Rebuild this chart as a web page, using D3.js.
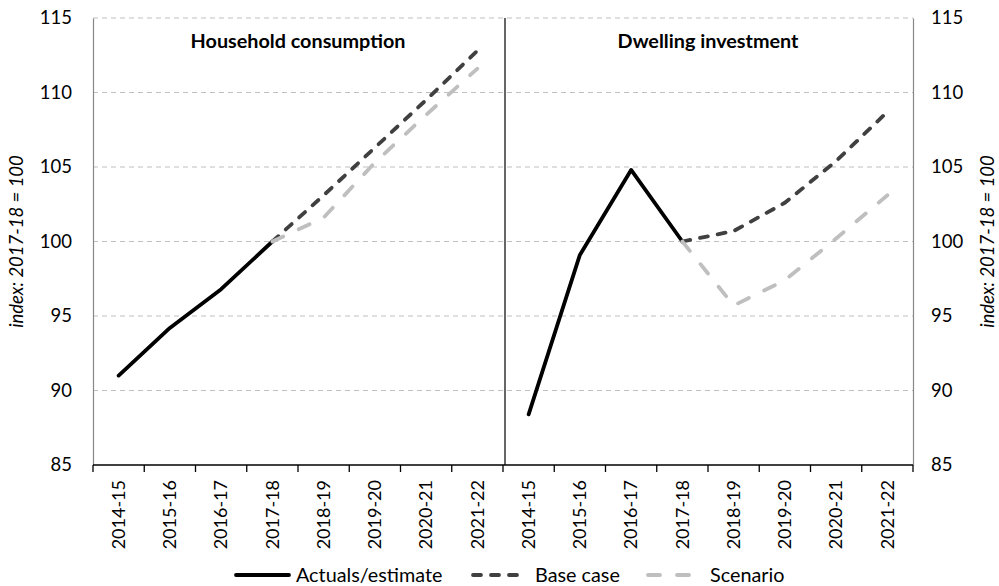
<!DOCTYPE html>
<html>
<head>
<meta charset="utf-8">
<script src="https://cdn.jsdelivr.net/npm/d3@7"></script>
<style>
  html, body { margin: 0; padding: 0; background: #fff; }
  svg { display: block; font-family: Lato, "Open Sans", sans-serif; }
</style>
</head>
<body>
<svg id="chart" width="999" height="586"></svg>
<script>
// ---- data ----
const years = ["2014-15", "2015-16", "2016-17", "2017-18", "2018-19", "2019-20", "2020-21", "2021-22"];
const panelTitles = ["Household consumption", "Dwelling investment"];
const yTicks = [85, 90, 95, 100, 105, 110, 115];
const seriesNames = ["Actuals/estimate", "Base case", "Scenario"];

// Household consumption
const hcActual   = [91.0, 94.2, 96.8, 100.0, null, null, null, null];
const hcBase     = [null, null, null, 100.0, 103.1, 106.3, 109.5, 112.8];
const hcScenario = [null, null, null, 100.0, 101.6, 105.3, 108.5, 111.6];
// Dwelling investment
const diActual   = [88.4, 99.1, 104.8, 100.0, null, null, null, null];
const diBase     = [null, null, null, 100.0, 100.7, 102.6, 105.4, 108.7];
const diScenario = [null, null, null, 100.0, 95.7, 97.4, 100.2, 103.1];

const panels = [
  { title: panelTitles[0], series: [hcActual, hcBase, hcScenario] },
  { title: panelTitles[1], series: [diActual, diBase, diScenario] }
];

// ---- styles ----
const styles = [
  { color: "#000000", width: 3.8, dash: null, cap: "round" },
  { color: "#404040", width: 3.8, dash: "8,10", cap: "round" },
  { color: "#bfbfbf", width: 3.8, dash: "12,17", cap: "round" }
];

const svg = d3.select("#chart");
const L = 93, R = 913, T = 18, B = 465;

const keys = [];
panels.forEach((p, pi) => years.forEach(y => keys.push(pi + "|" + y)));
const x = d3.scaleBand().domain(keys).range([L, R]).paddingInner(0).paddingOuter(0);
const y = d3.scaleLinear().domain([85, 115]).range([B, T]);

// gridlines
svg.append("g").selectAll("line").data(yTicks.filter(t => t > 85)).join("line")
  .attr("x1", L).attr("x2", R)
  .attr("y1", d => y(d)).attr("y2", d => y(d))
  .attr("stroke", "#bfbfbf").attr("stroke-width", 1.2).attr("stroke-dasharray", "5,4");

// left / right axes
const yAxisL = d3.axisLeft(y).tickValues(yTicks).tickSize(0).tickPadding(21);
const gL = svg.append("g").attr("transform", `translate(${L},0)`).call(yAxisL);
gL.select(".domain").attr("stroke", "#888").attr("stroke-width", 1.2);
gL.selectAll("text").attr("font-size", 18.5).attr("fill", "#000").attr("font-family", "Lato");

const yAxisR = d3.axisRight(y).tickValues(yTicks).tickSize(0).tickPadding(18);
const gR = svg.append("g").attr("transform", `translate(${R},0)`).call(yAxisR);
gR.select(".domain").attr("stroke", "#888").attr("stroke-width", 1.2);
gR.selectAll("text").attr("font-size", 18.5).attr("fill", "#000").attr("font-family", "Lato");

// divider
const divX = x("1|" + years[0]) + 2;
svg.append("line").attr("x1", divX).attr("x2", divX).attr("y1", T).attr("y2", B)
  .attr("stroke", "#000").attr("stroke-width", 1.2);

// bottom axis
const xAxis = d3.axisBottom(x).tickSize(0).tickPadding(0).tickFormat(d => d.split("|")[1]);
const gX = svg.append("g").attr("transform", `translate(0,${B})`).call(xAxis);
gX.select(".domain").remove();
gX.selectAll(".tick text")
  .attr("font-size", 18).attr("fill", "#000").attr("font-family", "Lato")
  .attr("transform", "rotate(-90)")
  .attr("text-anchor", "end").attr("dy", "0.35em").attr("x", -15).attr("y", 0);
svg.append("line").attr("x1", L).attr("x2", R).attr("y1", B).attr("y2", B)
  .attr("stroke", "#000").attr("stroke-width", 1.5);
const bounds = keys.map(k => x(k)).concat([R]);
svg.append("g").selectAll("line").data(bounds).join("line")
  .attr("x1", d => d).attr("x2", d => d).attr("y1", B).attr("y2", B + 7)
  .attr("stroke", "#000").attr("stroke-width", 1.3);

// y-axis titles
const yMid = (T + B) / 2;
[17, 988].forEach(tx => {
  svg.append("text")
    .attr("transform", `translate(${tx},${yMid}) rotate(-90)`)
    .attr("text-anchor", "middle").attr("dy", "0.35em")
    .attr("font-size", 18.5).attr("font-style", "italic").attr("font-family", "Lato")
    .text("index: 2017-18 = 100");
});

// panel titles and lines
panels.forEach((p, pi) => {
  const x0 = x(pi + "|" + years[0]);
  const x1 = x(pi + "|" + years[years.length - 1]) + x.bandwidth();
  svg.append("text").attr("x", (x0 + x1) / 2).attr("y", 41).attr("dy", "0.35em")
    .attr("text-anchor", "middle").attr("font-weight", "bold").attr("font-size", 19.8)
    .attr("font-family", "Lato")
    .text(p.title);

  p.series.forEach((vals, si) => {
    const st = styles[si];
    const line = d3.line()
      .defined(d => d.v !== null)
      .x(d => x(pi + "|" + d.yr) + x.bandwidth() / 2)
      .y(d => y(d.v));
    const data = years.map((yr, i) => ({ yr, v: vals[i] }));
    const path = svg.append("path").datum(data).attr("d", line)
      .attr("fill", "none").attr("stroke", st.color).attr("stroke-width", st.width)
      .attr("stroke-linecap", st.cap).attr("stroke-linejoin", "round");
    if (st.dash) path.attr("stroke-dasharray", st.dash);
  });
});

// legend
const legendItems = [
  { name: seriesNames[0], x1: 236, x2: 289, tx: 296 },
  { name: seriesNames[1], x1: 473, x2: 525, tx: 535 },
  { name: seriesNames[2], x1: 648, x2: 699, tx: 710 }
];
const LY = 575;
const lg = svg.append("g");
legendItems.forEach((it, i) => {
  const st = styles[i];
  const ln = lg.append("line").attr("x1", it.x1).attr("x2", it.x2).attr("y1", LY).attr("y2", LY)
    .attr("stroke", st.color).attr("stroke-width", st.width).attr("stroke-linecap", st.cap);
  if (st.dash) ln.attr("stroke-dasharray", st.dash);
  lg.append("text").attr("x", it.tx).attr("y", LY).attr("dy", "0.33em")
    .attr("font-size", 19.8).attr("font-family", "Lato").text(it.name);
});
</script>
</body>
</html>
